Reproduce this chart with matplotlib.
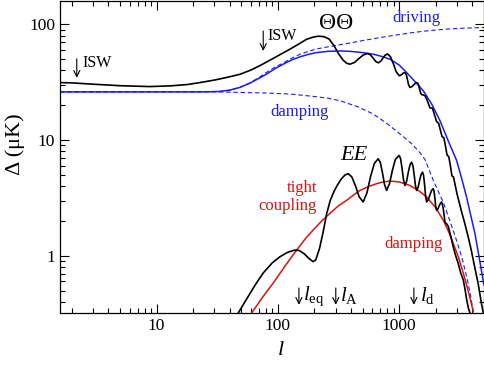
import matplotlib
matplotlib.use("Agg")
import matplotlib.pyplot as plt
from matplotlib.ticker import FuncFormatter, NullFormatter, LogLocator

plt.rcParams['font.family'] = ['Liberation Serif', 'DejaVu Serif']
plt.rcParams['mathtext.fontset'] = 'custom'
plt.rcParams['mathtext.rm'] = 'Liberation Serif'
plt.rcParams['mathtext.it'] = 'Liberation Serif:italic'

# ---- data ----
tt_l = [1.6, 2, 3, 5, 8.8, 13, 18, 22.8, 30, 38, 48.6, 60, 72, 86, 105, 125.6, 150, 172.5, 195, 215,
        240, 265, 290, 315, 345, 370, 393, 428, 465, 506, 550, 578, 608, 639, 672, 702, 733, 766,
        800, 846, 894, 946, 1000, 1027, 1055, 1085, 1114, 1143, 1168, 1196, 1225, 1269, 1313, 1359,
        1406, 1438, 1467, 1498, 1530, 1585, 1640, 1715, 1790, 1835, 1880, 1955, 2030, 2070, 2110,
        2180, 2250, 2290, 2330, 2400, 2480, 2520, 2560, 2640, 2720, 2760, 2800, 3000, 3267, 3450,
        3706, 3900, 4076, 4300, 4480, 4650, 4777, 5000]
tt_D = [31.4, 31.2, 30.4, 29.5, 29.0, 29.4, 30.2, 31.4, 33.0, 34.8, 37.0, 40.3, 44.3, 49.0, 55.0, 61.0, 68.0, 74.3, 77.5, 79.0,
        78.3, 74.5, 65.5, 56.0, 49.0, 46.0, 45.3, 46.9, 50.6, 54.4, 56.0, 54.6, 51.2, 47.9, 46.5, 47.8, 51.0, 54.2,
        55.5, 52.6, 45.7, 38.8, 36.0, 36.3, 37.1, 38.0, 38.3, 36.9, 33.4, 29.9, 28.5, 28.9, 29.9, 31.0,
        31.4, 30.4, 28.0, 25.7, 24.7, 24.5, 24.0, 21.5, 19.0, 18.9, 18.8, 16.5, 14.5, 14.2, 14.0,
        12.3, 10.8, 10.6, 10.5, 9.0, 7.4, 7.3, 7.2, 6.0, 4.9, 4.85, 4.8, 3.4, 2.4, 1.95,
        1.45, 1.15, 0.92, 0.7, 0.57, 0.45, 0.38, 0.3]

env_l = [1.6, 10, 25, 33, 40, 48.6, 58.7, 70, 80.7, 95, 110.7, 130, 152, 180, 208, 260, 324, 400, 500,
         611, 720, 838, 1000, 1151, 1350, 1578, 1850, 2168, 2550, 2972, 3300, 3594, 3900, 4207, 4550,
         4932, 5000]
env_D = [26.1, 26.1, 26.1, 26.3, 27.0, 28.5, 31.0, 34.2, 37.2, 41.5, 45.3, 49.3, 52.4, 55.2, 57.0, 58.5, 58.9, 58.4, 57.0,
         55.2, 52.8, 50.0, 44.5, 38.3, 32.0, 26.7, 20.5, 14.7, 9.7, 6.67, 4.5, 3.2, 2.2, 1.56, 0.98,
         0.6, 0.56]

drive_l = [1.6, 33, 40, 48.6, 58.7, 70, 80.7, 95, 110.7, 130, 152, 180, 208, 250, 286, 340, 393, 505,
           700, 952, 1300, 1792, 2500, 3500, 5000]
drive_D = [26.1, 26.3, 27.0, 28.5, 31.2, 34.8, 38.5, 42.8, 46.4, 51.0, 55.2, 58.6, 61.3, 63.5, 65.0, 67.3, 69.0, 72.5,
           77.0, 81.0, 85.0, 88.5, 91.0, 92.8, 94.0]

damp_l = [1.6, 30, 48.6, 80, 125.6, 200, 260, 324, 450, 611, 800, 1014, 1250, 1450, 1630, 1906, 2100,
          2307, 2618, 2972, 3300, 3594, 3850, 4076]
damp_D = [26.1, 26.1, 25.8, 25.5, 25.0, 23.8, 23.0, 21.9, 19.5, 16.8, 13.8, 11.3, 9.4, 8.0, 6.8, 4.5, 3.6,
          2.9, 2.0, 1.35, 0.95, 0.66, 0.47, 0.33]

ee_l = [47.1, 55, 65, 75.7, 90, 103.8, 120, 130, 138, 150, 165, 180, 195, 205, 220, 236, 252, 270, 290,
        310, 335, 358, 380, 407, 436, 467, 505, 542, 582, 625, 671, 698, 726, 756, 787, 832, 880, 930,
        1000, 1027, 1055, 1085, 1114, 1150, 1187, 1226, 1265, 1296, 1327, 1359, 1391, 1431, 1472, 1514,
        1558, 1588, 1619, 1650, 1682, 1736, 1791, 1848, 1906, 1937, 1968, 2000, 2032, 2083, 2134, 2186,
        2239, 2300, 2384, 2450, 2535, 2650, 2787, 2920, 3064, 3200, 3371, 3480, 3594, 3700, 3828]
ee_D = [0.32, 0.42, 0.56, 0.71, 0.87, 0.98, 1.07, 1.10, 1.12, 1.11, 1.04, 0.95, 0.89, 0.92, 1.15, 1.6, 2.3, 3.0, 3.6,
        4.1, 4.65, 5.0, 5.12, 4.8, 4.02, 3.24, 2.92, 3.5, 4.9, 6.31, 6.89, 6.42, 5.28, 4.14, 3.67, 4.21, 5.52, 6.82,
        7.36, 6.88, 5.71, 4.53, 4.05, 4.40, 5.25, 6.09, 6.44, 6.04, 5.06, 4.07, 3.67, 3.91, 4.48, 5.04,
        5.28, 4.94, 4.10, 3.26, 2.92, 3.05, 3.36, 3.67, 3.80, 3.61, 3.14, 2.66, 2.47, 2.54, 2.70, 2.85,
        2.92, 2.6, 1.95, 1.9, 1.8, 1.5, 1.19, 1.0, 0.86, 0.72, 0.62, 0.52, 0.42, 0.36, 0.32]

tc_l = [60.7, 75, 91.4, 115, 142.6, 170, 195.3, 230, 268, 315, 368, 420, 474, 560, 651, 740, 838, 1000,
        1225, 1450, 1682, 2000, 2307, 2550, 2787, 3070, 3371, 3700, 4076]
tc_D = [0.32, 0.44, 0.58, 0.82, 1.12, 1.42, 1.67, 2.0, 2.32, 2.7, 3.01, 3.35, 3.67, 3.97, 4.2, 4.35, 4.42, 4.35,
        4.05, 3.65, 3.22, 2.6, 2.03, 1.62, 1.28, 0.98, 0.71, 0.5, 0.33]

x_ticks = [10, 100, 1000]
y_ticks = [1, 10, 100]

# ---- figure ----
fig = plt.figure(figsize=(4.85, 3.67), dpi=100)
ax = fig.add_axes([0.1237, 0.147, 0.8743, 0.851])
ax.set_xscale('log')
ax.set_yscale('log')
ax.set_xlim(1.6, 5000)
ax.set_ylim(0.32, 160)

blue = '#1a1aff'
red = '#dd1111'
ax.plot(drive_l, drive_D, color=blue, lw=0.8, ls=(0, (4, 2.5)))
ax.plot(damp_l, damp_D, color=blue, lw=0.8, ls=(0, (4, 2.5)))
ax.plot(env_l, env_D, color=blue, lw=1.1)
ax.plot(tt_l, tt_D, color='black', lw=1.2)
ax.plot(tc_l, tc_D, color=red, lw=1.1)
ax.plot(ee_l, ee_D, color='black', lw=1.2)

ax.set_xticks(x_ticks)
ax.set_yticks(y_ticks)
fmt = FuncFormatter(lambda v, _: f'{v:g}')
ax.xaxis.set_major_formatter(fmt)
ax.yaxis.set_major_formatter(fmt)
ax.xaxis.set_minor_locator(LogLocator(base=10, subs=range(2, 10)))
ax.yaxis.set_minor_locator(LogLocator(base=10, subs=range(2, 10)))
ax.xaxis.set_minor_formatter(NullFormatter())
ax.yaxis.set_minor_formatter(NullFormatter())
ax.tick_params(which='both', direction='in', top=True, right=True, labelsize=12.5, width=0.8)
ax.tick_params(which='major', length=6.5)
ax.tick_params(which='minor', length=3.5)
for s in ax.spines.values():
    s.set_linewidth(0.9)

ax.set_ylabel('Δ (μK)', fontsize=16)
ax.yaxis.set_label_coords(-0.0825, 0.54)
ax.set_xlabel('$l$', fontsize=16)
ax.xaxis.set_label_coords(0.521, -0.09)

# ---- annotations ----
arr = dict(arrowstyle='->', lw=0.8, color='black', mutation_scale=11, shrinkA=0, shrinkB=0)
ax.annotate('', xy=(2.2, 34.5), xytext=(2.2, 50.3), arrowprops=arr)
ax.text(2.47, 46.4, 'ISW', fontsize=11.5, va='center', ha='left')
ax.annotate('', xy=(75.7, 58.9), xytext=(75.7, 87.6), arrowprops=arr)
ax.text(82.8, 79.3, 'ISW', fontsize=11.5, va='center', ha='left')

ax.text(300, 102.6, 'ΘΘ', fontsize=17, ha='center', va='center')
ax.text(1374, 113, 'driving', fontsize=12, color=blue, ha='center', va='center')
ax.text(152, 17.6, 'damping', fontsize=12, color=blue, ha='center', va='center')
ax.text(423, 7.36, 'EE', fontsize=16, style='italic', ha='center', va='center')
ax.text(210, 3.83, 'tight', fontsize=12, color=red, ha='right', va='center')
ax.text(210, 2.68, 'coupling', fontsize=12, color=red, ha='right', va='center')
ax.text(1321, 1.26, 'damping', fontsize=12, color=red, ha='center', va='center')

for lx, tx, lab in [(149, 160.7, r'$l_{\rm eq}$'), (300, 324, r'$l_{\rm A}$'), (1321, 1480, r'$l_{\rm d}$')]:
    ax.annotate('', xy=(lx, 0.377), xytext=(lx, 0.527), arrowprops=arr)
    ax.text(tx, 0.45, lab, fontsize=15, ha='left', va='center')

fig.savefig('out.png', dpi=100)
